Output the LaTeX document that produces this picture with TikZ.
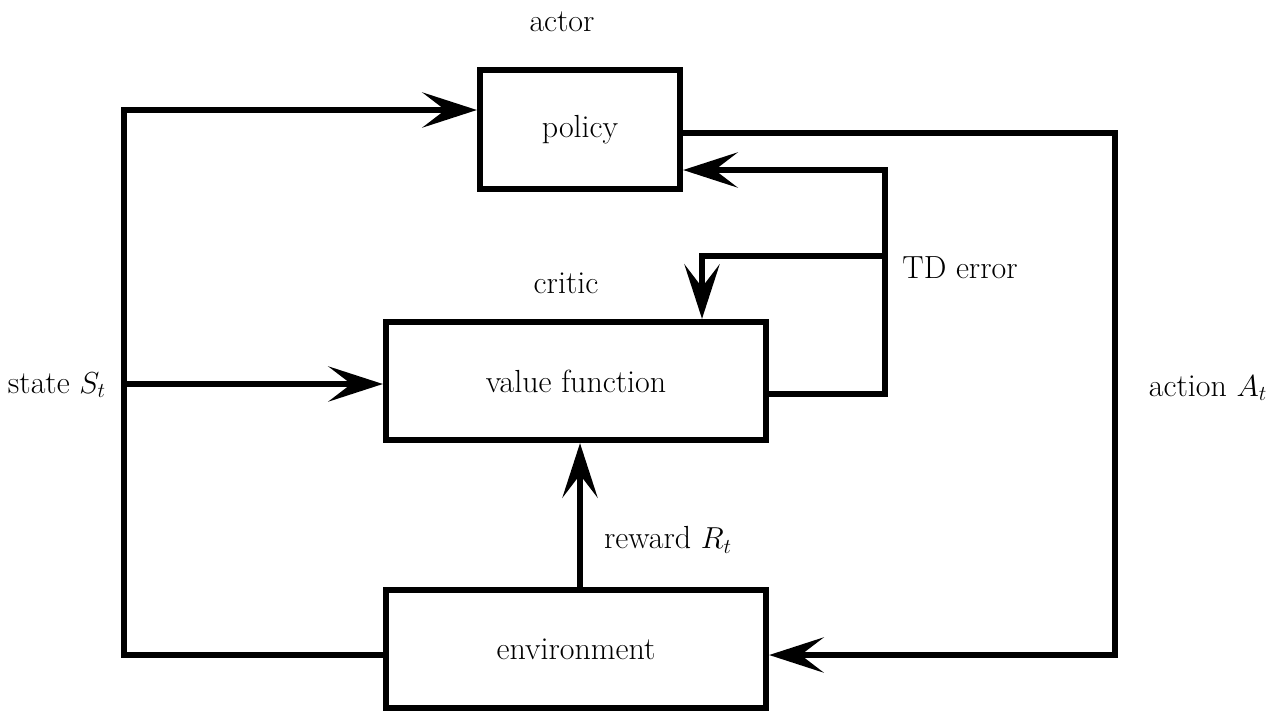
\documentclass[tikz,border=0pt]{standalone}
\usetikzlibrary{arrows.meta}
\begin{document}
\begin{tikzpicture}[x=0.02cm,y=-0.02cm,
  every node/.style={font=\fontsize{18.2}{22}\selectfont},
  box/.style={draw, line width=3.6pt, inner sep=0pt},
  wire/.style={line width=3.6pt},
  flow/.style={wire, -{Stealth[length=31pt,width=20pt,inset=13pt]}}]
\useasboundingbox (0,0) rectangle (1284,711);

% blocks
\node[box, minimum width=4cm, minimum height=2.38cm] (policy) at (580,129.5) {policy};
\node[box, minimum width=7.6cm, minimum height=2.36cm] (value) at (576,381) {value function};
\node[box, minimum width=7.6cm, minimum height=2.36cm] (env) at (576,649) {environment};

% labels
\node (actor) at (562,22) {actor};
\node (critic) at (566,283) {critic};
\node (td) at (960,268) {TD error};
\node (state) at (57,385) {state $S_t$};
\node (action) at (1208,388) {action $A_t$};
\node (reward) at (668,540) {reward $R_t$};

% corner points
\coordinate (sl) at (124,655);
\coordinate (st) at (124,110);
\coordinate (sm) at (124,384);
\coordinate (ar) at (1115,133);
\coordinate (ab) at (1115,655);
\coordinate (tb) at (885,394);
\coordinate (tt) at (885,170);
\coordinate (tm) at (885,256);
\coordinate (tl) at (702,256);

% state feeds policy and value function
\draw[flow] (env.west |- sl) -- (sl) -- (st) -- (policy.west |- st);
\draw[flow] (sm) -- (value.west |- sm);

% action back to the environment
\draw[flow] (policy.east |- ar) -- (ar) -- (ab) -- (env.east |- ab);

% TD error to actor and critic
\draw[flow] (value.east |- tb) -- (tb) -- (tt) -- (policy.east |- tt);
\draw[flow] (tm) -- (tl) -- (tl |- value.north);

% reward
\draw[flow] (env.north -| 580,0) -- (value.south -| 580,0);
\end{tikzpicture}
\end{document}
